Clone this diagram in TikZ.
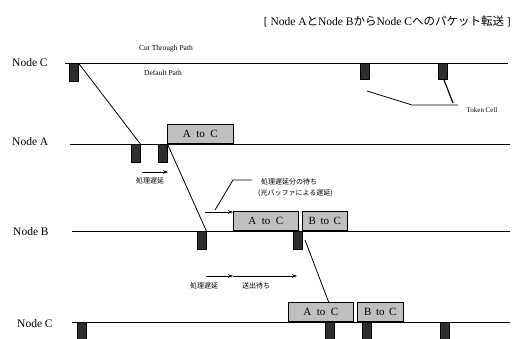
\documentclass[tikz,border=0pt]{standalone}
\usepackage{fontspec}
\setmainfont{Liberation Serif}
\newfontfamily\jp{Noto Sans CJK JP}
\usetikzlibrary{arrows.meta}
\begin{document}
\begin{tikzpicture}[x=1pt,y=-1pt,
  lane/.style={line width=0.7pt},
  conn/.style={line width=0.8pt},
  cell/.style={draw=black,line width=0.4pt,fill=black!82,minimum width=9pt,minimum height=18pt,inner sep=0pt,anchor=north west},
  pkt/.style={draw=black,line width=0.6pt,fill=black!25,minimum height=19pt,inner sep=0pt,anchor=south west,font=\fontsize{11}{12}\selectfont},
  lbl/.style={font=\fontsize{11.5}{13}\selectfont,anchor=west,inner sep=0pt},
  small/.style={font=\fontsize{7.5}{9}\selectfont,inner sep=0pt},
  jps/.style={font=\jp\fontsize{7}{9}\selectfont,inner sep=0pt},
  arr/.style={line width=0.7pt,-{Stealth[length=5pt,width=3.5pt]}}]
\useasboundingbox (0,0) rectangle (514,338);

% title
\node[anchor=east,inner sep=0pt,font=\fontsize{11.5}{13}\selectfont] (title) at (511,21)
  {[ Node A{\jp と}Node B{\jp から}Node C{\jp へのパケット転送} ]};

% lane labels
\node[lbl] (lC1) at (12,63) {Node C};
\node[lbl] (lA) at (12,142) {Node A};
\node[lbl] (lB) at (13,232) {Node B};
\node[lbl] (lC2) at (17,324) {Node C};

% lane lines
\coordinate (c1s) at (65,63);  \coordinate (c1e) at (508,63);
\coordinate (as) at (70,144);  \coordinate (ae) at (510,144);
\coordinate (bs) at (72,231);  \coordinate (be) at (510,231);
\coordinate (c2s) at (72,322); \coordinate (c2e) at (510,322);
\draw[lane] (c1s) -- (c1e);
\draw[lane] (as) -- (ae);
\draw[lane] (bs) -- (be);
\draw[lane] (c2s) -- (c2e);

% top Node C texts
\node[small] (cut) at (166,49) {Cut Through Path};
\node[small] (def) at (163,73) {Default Path};

% cells
\node[cell] (tc1) at (69,63) {};
\node[cell,minimum height=16pt] (tc2) at (360,63) {};
\node[cell,minimum height=16pt] (tc3) at (438,63) {};
\node[cell] (a1) at (131,144) {};
\node[cell] (a2) at (158,144) {};
\node[cell] (b1) at (197,231) {};
\node[cell] (b2) at (293,231) {};
\node[cell] (c1) at (77,322) {};
\node[cell] (c2) at (325,322) {};
\node[cell] (c3) at (362,322) {};
\node[cell] (c4) at (440,322) {};

% packets
\node[pkt,minimum width=66pt] (pA) at (167,144) {A\ \ to\ \ C};
\node[pkt,minimum width=65pt] (pBA) at (233,231) {A\ \ to\ \ C};
\node[pkt,minimum width=45pt] (pBB) at (302,231) {B\ \,to\ \,C};
\node[pkt,minimum width=65pt] (pCA) at (288,322) {A\ \ to\ \ C};
\node[pkt,minimum width=46pt] (pCB) at (357,322) {B\ \,to\ \,C};

% diagonals
\draw[conn] (tc1.north east) -- (a1.north east);
\draw[conn] (a2.north east) -- (b1.north east);
\coordinate (d3s) at (305,240);
\coordinate (d3e) at (329,303);
\draw[conn] (d3s) -- (d3e);

% token cell label
\node[small,font=\fontsize{7}{9}\selectfont] (tok) at (482,110) {Token Cell};
\coordinate (tk1) at (367,91); \coordinate (tk2) at (412,105); \coordinate (tk3) at (458,105);
\draw[conn] (tk1) -- (tk2) -- (tk3);
\coordinate (tk4) at (444,80);
\coordinate (tk5) at (453,103);
\draw[line width=1.2pt,black] (tk4) -- (tk5);

% Node A delay arrow
\coordinate (aa1) at (142,172); \coordinate (aa2) at (168,172);
\draw[arr] (aa1) -- (aa2);
\node[jps] (ja) at (150,181) {処理遅延};

% Node B buffer note
\coordinate (bw1) at (205,212);
\draw[arr] (bw1) -- (pBA.west |- bw1);
\coordinate (bl1) at (215,210); \coordinate (bl2) at (233,180); \coordinate (bl3) at (252,180);
\draw[conn] (bl1) -- (bl2) -- (bl3);
\node[jps,anchor=west] (jb1) at (261,182) {処理遅延分の待ち};
\node[jps,anchor=west] (jb2) at (258,193) {(光バッファによる遅延)};

% Node B delay arrows
\coordinate (ba1) at (206,276); \coordinate (ba2) at (233,276); \coordinate (ba3) at (297,276);
\draw[arr] (ba1) -- (ba2);
\draw[arr] (ba2) -- (ba3);
\node[jps] (jb3) at (204,286) {処理遅延};
\node[jps] (jb4) at (256,286) {送出待ち};
\end{tikzpicture}
\end{document}
